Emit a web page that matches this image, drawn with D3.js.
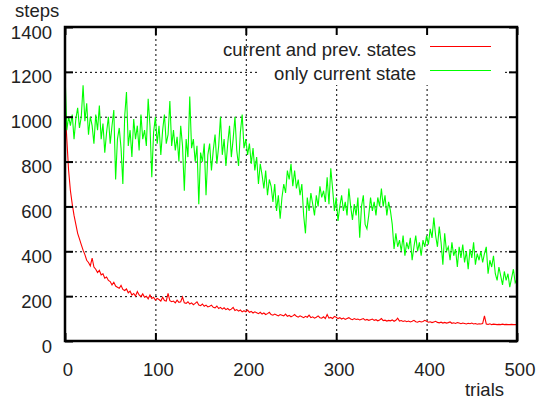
<!DOCTYPE html>
<html>
<head>
<meta charset="utf-8">
<script src="https://cdn.jsdelivr.net/npm/d3@7/dist/d3.min.js"></script>
<style>
    body { margin: 0; background: #fff; }
    text { font-family: "Liberation Sans", Arial, sans-serif; font-size: 18.5px; fill: #222; }
</style>
</head>
<body>
<div id="chart"></div>
<script>
// one value every 2 trials, 0..500
const trialStep = 2;

const prevStates = [
    1050, 900, 760, 670, 610, 560, 520, 480, 455, 430,
    405, 385, 360, 350, 335, 370, 330, 320, 305, 315,
    295, 300, 280, 285, 270, 265, 250, 262, 245, 240,
    235, 248, 230, 225, 232, 215, 222, 205, 212, 200,
    220, 205, 198, 210, 195, 200, 188, 205, 190, 195,
    182, 190, 185, 178, 195, 180, 178, 212, 180, 175,
    178, 170, 182, 172, 175, 196, 170, 168, 175, 165,
    170, 162, 168, 175, 160, 158, 165, 155, 160, 152,
    155, 160, 150, 148, 156, 145, 150, 142, 148, 140,
    145, 138, 142, 150, 136, 140, 133, 138, 130, 135,
    130, 138, 128, 132, 125, 130, 126, 122, 128, 120,
    125, 118, 122, 128, 118, 115, 120, 116, 112, 118,
    115, 112, 120, 110, 114, 108, 112, 118, 110, 106,
    112, 108, 104, 110, 106, 115, 104, 108, 102, 106,
    112, 104, 102, 108, 100, 118, 102, 105, 100, 110,
    106, 100, 104, 98, 102, 96, 100, 104, 98, 95,
    100, 96, 98, 94, 97, 100, 93, 96, 92, 95,
    98, 92, 95, 90, 94, 100, 91, 93, 89, 92,
    90, 94, 88, 92, 102, 89, 91, 87, 90, 86,
    89, 85, 88, 92, 86, 84, 88, 85, 87, 92,
    88, 84, 86, 82, 85, 88, 83, 81, 84, 80,
    83, 80, 82, 85, 79, 81, 78, 82, 80, 77,
    80, 78, 76, 79, 77, 80, 76, 78, 75, 77,
    76, 78, 112, 76, 74, 77, 73, 75, 74, 73,
    74, 73, 75, 73, 74, 73, 73, 74, 73, 73,
    73
];

const currentState = [
    1200, 940, 1000, 960, 1010, 900, 990, 1040, 950, 1000,
    1140, 980, 1060, 920, 1000, 960, 880, 1010, 940, 1050,
    900, 970, 840, 930, 1000, 880, 960, 1030, 720, 900,
    950, 860, 700, 1000, 1110, 870, 940, 820, 990, 900,
    960, 850, 1010, 900, 940, 870, 1080, 960, 730, 930,
    1000, 880, 960, 830, 940, 1010, 880, 920, 1070, 870,
    940, 850, 910, 800, 960, 870, 670, 900, 820, 1090,
    860, 900, 800, 870, 610, 840, 800, 880, 650, 830,
    880, 760, 850, 920, 790, 870, 1000, 830, 900, 780,
    880, 960, 820, 900, 1000, 850, 780, 930, 1010, 860,
    900, 830, 880, 790, 860, 760, 820, 700, 790, 740,
    680, 760, 650, 720, 690, 620, 700, 580, 650, 545,
    640, 700, 660, 760, 720, 790, 690, 760, 680, 720,
    650, 700, 560, 480, 640, 580, 660, 610, 560, 650,
    600, 690, 640, 670, 620, 730, 610, 770, 680, 580,
    640, 535, 600, 650, 580, 620, 560, 680, 600, 540,
    610, 560, 640, 460, 600, 650, 520, 500, 560, 640,
    580, 620, 560, 640, 600, 680, 600, 650, 560, 620,
    580, 520, 410, 480, 420, 450, 400, 470, 380, 440,
    410, 460, 360, 420, 470, 400, 440, 380, 450, 420,
    470, 430, 500, 460, 550, 470, 420, 510, 440, 340,
    480, 400, 420, 360, 440, 380, 410, 330, 420, 370,
    430, 350, 400, 320, 410, 370, 440, 340, 390, 360,
    400, 350, 390, 420, 300, 360, 330, 380, 300, 270,
    330, 290, 250, 310, 270, 300, 240, 280, 320, 260,
    275
];

const seriesNames = ['current and prev. states', 'only current state'];
const seriesColors = ['#ff0000', '#00ff00'];
const xTicks = [0, 100, 200, 300, 400, 500];
const yTicks = [0, 200, 400, 600, 800, 1000, 1200, 1400];

const width = 542, height = 403;
const margin = { top: 27, left: 65, right: 25, bottom: 62 };
const w = width - margin.left - margin.right;
const h = height - margin.top - margin.bottom;

const svg = d3.select('#chart')
    .append('svg')
    .attr('width', width)
    .attr('height', height);

const x = d3.scaleLinear().domain([0, 500]).range([0, w]);
const y = d3.scaleLinear().domain([0, 1400]).range([h, 0]);
const fmt = d3.format('d');

const g = svg.append('g')
    .attr('transform', `translate(${margin.left}, ${margin.top})`);

// dotted grid
const grid = g.append('g').attr('class', 'grid');
grid.append('g')
    .attr('transform', `translate(0, ${h})`)
    .call(d3.axisBottom(x).tickValues(xTicks.slice(1, -1)).tickSize(-h).tickFormat(''));
grid.append('g')
    .call(d3.axisLeft(y).tickValues(yTicks.slice(1, -1)).tickSize(-w).tickFormat(''));
grid.selectAll('.domain').remove();
grid.selectAll('line')
    .attr('stroke', '#000')
    .attr('stroke-width', 1)
    .attr('stroke-dasharray', '2,3');

// key box hides the grid under it
g.append('rect')
    .attr('x', 193)
    .attr('y', 1)
    .attr('width', 245)
    .attr('height', 57)
    .attr('fill', '#fff');

const series = [prevStates, currentState];
const line = d3.line()
    .x((d, i) => x(i * trialStep))
    .y(d => y(d));

g.selectAll('.series')
    .data(series)
    .enter()
    .append('path')
    .attr('class', 'series')
    .attr('d', d => line(d))
    .attr('fill', 'none')
    .attr('stroke', (d, i) => seriesColors[i])
    .attr('stroke-width', 1.1);

// frame
g.append('rect')
    .attr('width', w)
    .attr('height', h)
    .attr('fill', 'none')
    .attr('stroke', '#000')
    .attr('stroke-width', 2.5);

// inward ticks on all four sides
const axes = g.append('g').attr('class', 'axes');

const left = axes.append('g')
    .call(d3.axisLeft(y).tickValues(yTicks).tickSize(-8).tickPadding(13).tickFormat(fmt));
left.selectAll('text').attr('dy', '11px');

axes.append('g')
    .attr('transform', `translate(${w}, 0)`)
    .call(d3.axisRight(y).tickValues(yTicks).tickSize(-8).tickFormat(''));

const bottom = axes.append('g')
    .attr('transform', `translate(0, ${h})`)
    .call(d3.axisBottom(x).tickValues(xTicks).tickSize(-8).tickFormat(fmt));
bottom.selectAll('text').attr('y', 35).attr('dy', '0').attr('x', 2.5);

axes.append('g')
    .call(d3.axisTop(x).tickValues(xTicks).tickSize(-8).tickFormat(''));

axes.selectAll('.domain').remove();
axes.selectAll('.tick line')
    .attr('stroke', '#000')
    .attr('stroke-width', 2);
axes.selectAll('.tick text')
    .style('font-family', '"Liberation Sans", Arial, sans-serif')
    .style('font-size', '18.5px')
    .attr('fill', '#222');

// axis titles
svg.append('text')
    .attr('x', 15)
    .attr('y', 17)
    .text('steps');
svg.append('text')
    .attr('x', 504)
    .attr('y', 396)
    .style('text-anchor', 'end')
    .text('trials');

// key
const key = svg.append('g');
key.selectAll('.key_text')
    .data(seriesNames)
    .enter()
    .append('text')
    .attr('x', 416)
    .attr('y', (d, i) => 56 + i * 24)
    .style('text-anchor', 'end')
    .text(d => d);
key.selectAll('.key_line')
    .data(seriesNames)
    .enter()
    .append('line')
    .attr('x1', 430)
    .attr('x2', 491)
    .attr('y1', (d, i) => 46.5 + i * 24)
    .attr('y2', (d, i) => 46.5 + i * 24)
    .attr('stroke', (d, i) => seriesColors[i])
    .attr('stroke-width', 1);
</script>
</body>
</html>
